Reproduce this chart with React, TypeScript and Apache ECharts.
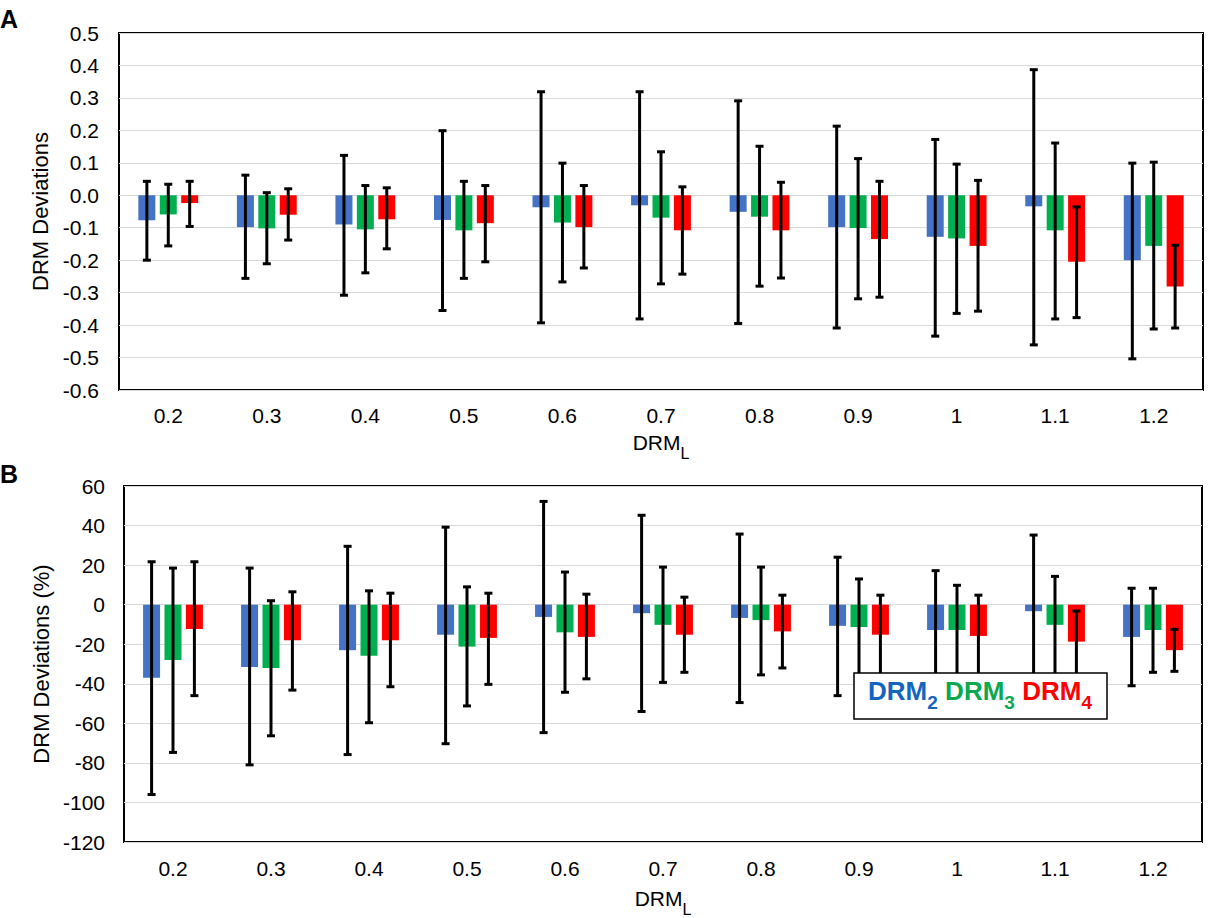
import React, { useEffect, useRef } from "react";
import * as echarts from "echarts";

const categories = ["0.2", "0.3", "0.4", "0.5", "0.6", "0.7", "0.8", "0.9", "1", "1.1", "1.2"];

// Panel A: absolute deviations
const absDrm2 = [-0.077, -0.098, -0.09, -0.076, -0.037, -0.031, -0.051, -0.098, -0.128, -0.034, -0.2];
const absDrm2Hi = [0.043, 0.062, 0.123, 0.199, 0.319, 0.319, 0.291, 0.213, 0.172, 0.387, 0.099];
const absDrm2Lo = [-0.2, -0.256, -0.308, -0.355, -0.393, -0.381, -0.395, -0.409, -0.434, -0.461, -0.504];
const absDrm3 = [-0.059, -0.102, -0.105, -0.108, -0.084, -0.069, -0.066, -0.101, -0.133, -0.108, -0.156];
const absDrm3Hi = [0.034, 0.008, 0.03, 0.043, 0.099, 0.134, 0.151, 0.113, 0.096, 0.161, 0.102];
const absDrm3Lo = [-0.156, -0.211, -0.239, -0.256, -0.267, -0.273, -0.28, -0.319, -0.364, -0.381, -0.412];
const absDrm4 = [-0.024, -0.06, -0.074, -0.086, -0.098, -0.108, -0.108, -0.135, -0.156, -0.205, -0.281];
const absDrm4Hi = [0.043, 0.02, 0.023, 0.03, 0.03, 0.026, 0.04, 0.043, 0.046, -0.036, -0.154];
const absDrm4Lo = [-0.096, -0.138, -0.165, -0.205, -0.224, -0.243, -0.255, -0.314, -0.357, -0.377, -0.409];

// Panel B: percentage deviations
const pctDrm2 = [-37, -31.5, -23, -15.2, -6.2, -4.3, -6.7, -10.7, -12.8, -3.3, -16.3];
const pctDrm2Hi = [21.7, 18.5, 29.5, 39.2, 52.2, 45.2, 35.7, 24, 17.2, 35.2, 8.3];
const pctDrm2Lo = [-96, -81, -75.8, -70.3, -64.7, -54, -49.5, -46, -45, -50, -41];
const pctDrm3 = [-28, -32, -25.8, -21.2, -14, -10.2, -7.8, -11.3, -12.8, -10.2, -12.8];
const pctDrm3Hi = [18.5, 2, 7, 9, 16.5, 19, 19, 13, 9.8, 14.3, 8.3];
const pctDrm3Lo = [-74.7, -66.3, -59.7, -51.2, -44.3, -39.3, -35.5, -45, -40, -42, -34.2];
const pctDrm4 = [-12.3, -18, -18, -16.8, -16.3, -15.2, -13.5, -15.2, -15.8, -18.7, -23];
const pctDrm4Hi = [21.7, 6.5, 5.8, 5.8, 5.3, 3.8, 4.8, 4.8, 4.8, -3.2, -12.5];
const pctDrm4Lo = [-46, -43.2, -41.5, -40.3, -37.5, -34.2, -32, -38, -38, -40, -33.7];

const seriesNames = ["DRM2", "DRM3", "DRM4"];
const barColors = ["#4472C4", "#00B050", "#FF0000"];
const legendColors = ["#1565C0", "#0AA84F", "#FF0000"];

const FONT = "'Liberation Sans', Arial, Helvetica, sans-serif";
const BAR_W = 17;
const OFFSETS = [-21.4, 0, 21.4];

function errRender(offset: number) {
  return (params: any, api: any) => {
    const ci = api.value(0);
    const lo = api.coord([ci, api.value(1)]);
    const hi = api.coord([ci, api.value(2)]);
    const x = lo[0] + offset;
    const style = { stroke: "#000", lineWidth: 3 };
    return {
      type: "group",
      children: [
        { type: "line", shape: { x1: x, y1: hi[1], x2: x, y2: lo[1] }, style },
        { type: "line", shape: { x1: x - 4, y1: hi[1], x2: x + 4, y2: hi[1] }, style },
        { type: "line", shape: { x1: x - 4, y1: lo[1], x2: x + 4, y2: lo[1] }, style },
      ],
    };
  };
}

const xName = "{m|DRM}{s|L}";
const xNameRich = {
  m: { fontSize: 21, fontFamily: FONT, color: "#000", lineHeight: 29, verticalAlign: "top" },
  s: { fontSize: 16, fontFamily: FONT, color: "#000", lineHeight: 16, verticalAlign: "bottom" },
};

function legendRich() {
  const r: any = {};
  ["a", "b", "c"].forEach((k, i) => {
    r[k] = { fontSize: 26, fontWeight: "bold", fontFamily: FONT, fill: legendColors[i], lineHeight: 34, verticalAlign: "top" };
    r[k + "s"] = {
      fontSize: 19,
      fontWeight: "bold",
      fontFamily: FONT,
      fill: legendColors[i],
      lineHeight: 17,
      verticalAlign: "bottom",
      padding: [0, i < 2 ? 4 : 0, 0, 0],
    };
  });
  return r;
}

export default function App() {
  const ref = useRef<HTMLDivElement>(null);
  useEffect(() => {
    if (!ref.current) return;
    const chart = echarts.init(ref.current, undefined, { renderer: "svg" });

    const means = [
      [absDrm2, absDrm3, absDrm4],
      [pctDrm2, pctDrm3, pctDrm4],
    ];
    const his = [
      [absDrm2Hi, absDrm3Hi, absDrm4Hi],
      [pctDrm2Hi, pctDrm3Hi, pctDrm4Hi],
    ];
    const los = [
      [absDrm2Lo, absDrm3Lo, absDrm4Lo],
      [pctDrm2Lo, pctDrm3Lo, pctDrm4Lo],
    ];

    const series: any[] = [];
    for (let g = 0; g < 2; g++) {
      for (let s = 0; s < 3; s++) {
        series.push({
          type: "bar",
          name: seriesNames[s],
          xAxisIndex: g,
          yAxisIndex: g,
          data: means[g][s],
          barWidth: BAR_W,
          barGap: "26%",
          itemStyle: { color: barColors[s] },
          z: 2,
        });
      }
      for (let s = 0; s < 3; s++) {
        series.push({
          type: "custom",
          name: seriesNames[s] + " error",
          xAxisIndex: g,
          yAxisIndex: g,
          data: categories.map((_, i) => [i, los[g][s][i], his[g][s][i]]),
          encode: { x: 0, y: [1, 2] },
          renderItem: errRender(OFFSETS[s]),
          z: 5,
        });
      }
    }

    const axisLabel = { fontSize: 21, fontFamily: FONT, color: "#000" };
    const nameStyle = { fontSize: 22, fontFamily: FONT, color: "#000" };

    chart.setOption({
      animation: false,
      backgroundColor: "#fff",
      textStyle: { fontFamily: FONT },
      grid: [
        { left: 119, top: 33, width: 1084, height: 357, show: true, borderColor: "#000", borderWidth: 2, containLabel: false },
        { left: 124, top: 486, width: 1078, height: 357, show: true, borderColor: "#000", borderWidth: 2, containLabel: false },
      ],
      xAxis: [0, 1].map((g) => ({
        type: "category",
        gridIndex: g,
        data: categories,
        position: "bottom",
        axisLine: { show: false },
        axisTick: { show: false },
        axisLabel: { ...axisLabel, margin: g === 0 ? 15 : 16 },
        name: xName,
        nameLocation: "middle",
        nameGap: g === 0 ? 42 : 46,
        nameTextStyle: { rich: xNameRich },
        splitLine: { show: false },
      })),
      yAxis: [
        {
          type: "value",
          gridIndex: 0,
          min: -0.6,
          max: 0.5,
          interval: 0.1,
          axisLine: { show: false },
          axisTick: { show: false },
          axisLabel: {
            ...axisLabel,
            margin: 20,
            formatter: (v: number) => (Math.abs(v) < 1e-9 ? "0.0" : v.toFixed(1)),
          },
          splitLine: { lineStyle: { color: "#D9D9D9", width: 1 } },
          name: "DRM Deviations",
          nameLocation: "middle",
          nameRotate: 90,
          nameGap: 65,
          nameTextStyle: nameStyle,
        },
        {
          type: "value",
          gridIndex: 1,
          min: -120,
          max: 60,
          interval: 20,
          axisLine: { show: false },
          axisTick: { show: false },
          axisLabel: { ...axisLabel, margin: 19 },
          splitLine: { lineStyle: { color: "#D9D9D9", width: 1 } },
          name: "DRM Deviations (%)",
          nameLocation: "middle",
          nameRotate: 90,
          nameGap: 69,
          nameTextStyle: nameStyle,
        },
      ],
      series,
      graphic: [
        {
          type: "text",
          left: 0,
          top: 6,
          z: 100,
          style: { text: "A", fontSize: 25, fontWeight: "bold", fontFamily: FONT, fill: "#000" },
        },
        {
          type: "text",
          left: 0,
          top: 461,
          z: 100,
          style: { text: "B", fontSize: 25, fontWeight: "bold", fontFamily: FONT, fill: "#000" },
        },
        {
          type: "rect",
          z: 100,
          shape: { x: 854, y: 673, width: 253, height: 46 },
          style: { fill: "#fff", stroke: "#000", lineWidth: 1.5 },
        },
        {
          type: "text",
          z: 101,
          x: 980,
          y: 695,
          style: {
            text: "{a|DRM}{as|2} {b|DRM}{bs|3} {c|DRM}{cs|4}",
            align: "center",
            verticalAlign: "middle",
            rich: legendRich(),
          },
        },
      ],
    });
    return () => chart.dispose();
  }, []);
  return (
    <div
      ref={ref}
      style={{ position: "absolute", left: 0, top: 0, width: 1211, height: 918, background: "#fff" }}
    />
  );
}
